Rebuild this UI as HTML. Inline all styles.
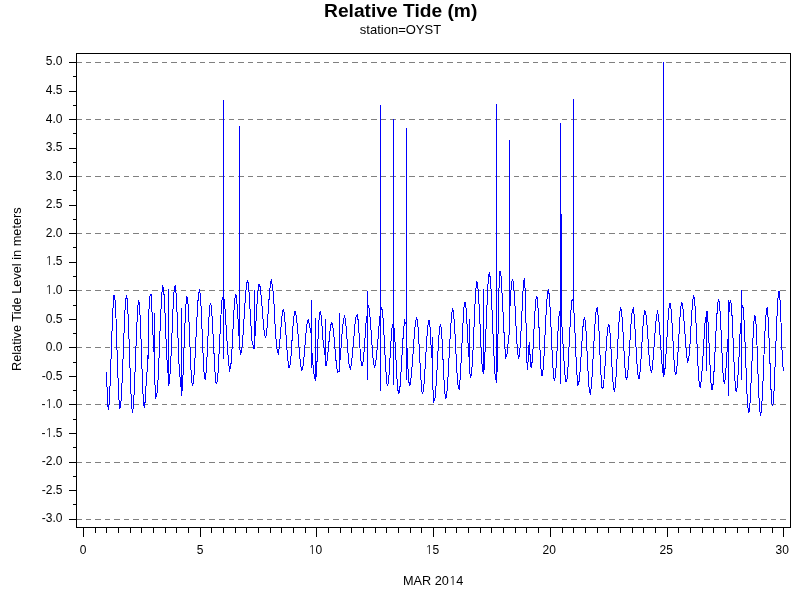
<!DOCTYPE html>
<html><head><meta charset="utf-8"><title>Relative Tide (m)</title>
<style>
html,body{margin:0;padding:0;background:#fff;width:800px;height:600px;overflow:hidden}
svg{display:block}
text{font-family:"Liberation Sans",Arial,sans-serif;fill:#000}
.o{font-family:"NanumGothic","Liberation Sans",sans-serif;font-size:0.96em}
</style></head><body>
<svg width="800" height="600" viewBox="0 0 800 600">
<rect width="800" height="600" fill="#fff"/>
<g shape-rendering="crispEdges">
<rect x="77" y="62" width="5" height="1" fill="#808080"/>
<rect x="86" y="62" width="5" height="1" fill="#808080"/>
<rect x="95" y="62" width="6" height="1" fill="#808080"/>
<rect x="105" y="62" width="5" height="1" fill="#808080"/>
<rect x="114" y="62" width="6" height="1" fill="#808080"/>
<rect x="124" y="62" width="5" height="1" fill="#808080"/>
<rect x="133" y="62" width="6" height="1" fill="#808080"/>
<rect x="143" y="62" width="5" height="1" fill="#808080"/>
<rect x="152" y="62" width="6" height="1" fill="#808080"/>
<rect x="162" y="62" width="5" height="1" fill="#808080"/>
<rect x="171" y="62" width="6" height="1" fill="#808080"/>
<rect x="181" y="62" width="5" height="1" fill="#808080"/>
<rect x="190" y="62" width="6" height="1" fill="#808080"/>
<rect x="200" y="62" width="5" height="1" fill="#808080"/>
<rect x="209" y="62" width="6" height="1" fill="#808080"/>
<rect x="219" y="62" width="6" height="1" fill="#808080"/>
<rect x="229" y="62" width="5" height="1" fill="#808080"/>
<rect x="238" y="62" width="6" height="1" fill="#808080"/>
<rect x="248" y="62" width="5" height="1" fill="#808080"/>
<rect x="257" y="62" width="6" height="1" fill="#808080"/>
<rect x="267" y="62" width="5" height="1" fill="#808080"/>
<rect x="276" y="62" width="6" height="1" fill="#808080"/>
<rect x="286" y="62" width="5" height="1" fill="#808080"/>
<rect x="295" y="62" width="6" height="1" fill="#808080"/>
<rect x="305" y="62" width="5" height="1" fill="#808080"/>
<rect x="314" y="62" width="6" height="1" fill="#808080"/>
<rect x="324" y="62" width="5" height="1" fill="#808080"/>
<rect x="333" y="62" width="6" height="1" fill="#808080"/>
<rect x="343" y="62" width="5" height="1" fill="#808080"/>
<rect x="352" y="62" width="6" height="1" fill="#808080"/>
<rect x="362" y="62" width="5" height="1" fill="#808080"/>
<rect x="371" y="62" width="6" height="1" fill="#808080"/>
<rect x="381" y="62" width="5" height="1" fill="#808080"/>
<rect x="390" y="62" width="6" height="1" fill="#808080"/>
<rect x="400" y="62" width="5" height="1" fill="#808080"/>
<rect x="409" y="62" width="6" height="1" fill="#808080"/>
<rect x="419" y="62" width="5" height="1" fill="#808080"/>
<rect x="428" y="62" width="6" height="1" fill="#808080"/>
<rect x="438" y="62" width="5" height="1" fill="#808080"/>
<rect x="447" y="62" width="6" height="1" fill="#808080"/>
<rect x="457" y="62" width="5" height="1" fill="#808080"/>
<rect x="466" y="62" width="6" height="1" fill="#808080"/>
<rect x="476" y="62" width="5" height="1" fill="#808080"/>
<rect x="485" y="62" width="6" height="1" fill="#808080"/>
<rect x="495" y="62" width="5" height="1" fill="#808080"/>
<rect x="504" y="62" width="6" height="1" fill="#808080"/>
<rect x="514" y="62" width="5" height="1" fill="#808080"/>
<rect x="523" y="62" width="6" height="1" fill="#808080"/>
<rect x="533" y="62" width="5" height="1" fill="#808080"/>
<rect x="542" y="62" width="6" height="1" fill="#808080"/>
<rect x="552" y="62" width="6" height="1" fill="#808080"/>
<rect x="562" y="62" width="5" height="1" fill="#808080"/>
<rect x="571" y="62" width="6" height="1" fill="#808080"/>
<rect x="581" y="62" width="5" height="1" fill="#808080"/>
<rect x="590" y="62" width="6" height="1" fill="#808080"/>
<rect x="600" y="62" width="5" height="1" fill="#808080"/>
<rect x="609" y="62" width="6" height="1" fill="#808080"/>
<rect x="619" y="62" width="5" height="1" fill="#808080"/>
<rect x="628" y="62" width="6" height="1" fill="#808080"/>
<rect x="638" y="62" width="5" height="1" fill="#808080"/>
<rect x="647" y="62" width="6" height="1" fill="#808080"/>
<rect x="657" y="62" width="5" height="1" fill="#808080"/>
<rect x="666" y="62" width="6" height="1" fill="#808080"/>
<rect x="676" y="62" width="5" height="1" fill="#808080"/>
<rect x="685" y="62" width="6" height="1" fill="#808080"/>
<rect x="695" y="62" width="5" height="1" fill="#808080"/>
<rect x="704" y="62" width="6" height="1" fill="#808080"/>
<rect x="714" y="62" width="5" height="1" fill="#808080"/>
<rect x="723" y="62" width="6" height="1" fill="#808080"/>
<rect x="733" y="62" width="5" height="1" fill="#808080"/>
<rect x="742" y="62" width="6" height="1" fill="#808080"/>
<rect x="752" y="62" width="5" height="1" fill="#808080"/>
<rect x="761" y="62" width="6" height="1" fill="#808080"/>
<rect x="771" y="62" width="5" height="1" fill="#808080"/>
<rect x="780" y="62" width="6" height="1" fill="#808080"/>
<rect x="77" y="119" width="5" height="1" fill="#808080"/>
<rect x="86" y="119" width="5" height="1" fill="#808080"/>
<rect x="95" y="119" width="6" height="1" fill="#808080"/>
<rect x="105" y="119" width="5" height="1" fill="#808080"/>
<rect x="114" y="119" width="6" height="1" fill="#808080"/>
<rect x="124" y="119" width="5" height="1" fill="#808080"/>
<rect x="133" y="119" width="6" height="1" fill="#808080"/>
<rect x="143" y="119" width="5" height="1" fill="#808080"/>
<rect x="152" y="119" width="6" height="1" fill="#808080"/>
<rect x="162" y="119" width="5" height="1" fill="#808080"/>
<rect x="171" y="119" width="6" height="1" fill="#808080"/>
<rect x="181" y="119" width="5" height="1" fill="#808080"/>
<rect x="190" y="119" width="6" height="1" fill="#808080"/>
<rect x="200" y="119" width="5" height="1" fill="#808080"/>
<rect x="209" y="119" width="6" height="1" fill="#808080"/>
<rect x="219" y="119" width="6" height="1" fill="#808080"/>
<rect x="229" y="119" width="5" height="1" fill="#808080"/>
<rect x="238" y="119" width="6" height="1" fill="#808080"/>
<rect x="248" y="119" width="5" height="1" fill="#808080"/>
<rect x="257" y="119" width="6" height="1" fill="#808080"/>
<rect x="267" y="119" width="5" height="1" fill="#808080"/>
<rect x="276" y="119" width="6" height="1" fill="#808080"/>
<rect x="286" y="119" width="5" height="1" fill="#808080"/>
<rect x="295" y="119" width="6" height="1" fill="#808080"/>
<rect x="305" y="119" width="5" height="1" fill="#808080"/>
<rect x="314" y="119" width="6" height="1" fill="#808080"/>
<rect x="324" y="119" width="5" height="1" fill="#808080"/>
<rect x="333" y="119" width="6" height="1" fill="#808080"/>
<rect x="343" y="119" width="5" height="1" fill="#808080"/>
<rect x="352" y="119" width="6" height="1" fill="#808080"/>
<rect x="362" y="119" width="5" height="1" fill="#808080"/>
<rect x="371" y="119" width="6" height="1" fill="#808080"/>
<rect x="381" y="119" width="5" height="1" fill="#808080"/>
<rect x="390" y="119" width="6" height="1" fill="#808080"/>
<rect x="400" y="119" width="5" height="1" fill="#808080"/>
<rect x="409" y="119" width="6" height="1" fill="#808080"/>
<rect x="419" y="119" width="5" height="1" fill="#808080"/>
<rect x="428" y="119" width="6" height="1" fill="#808080"/>
<rect x="438" y="119" width="5" height="1" fill="#808080"/>
<rect x="447" y="119" width="6" height="1" fill="#808080"/>
<rect x="457" y="119" width="5" height="1" fill="#808080"/>
<rect x="466" y="119" width="6" height="1" fill="#808080"/>
<rect x="476" y="119" width="5" height="1" fill="#808080"/>
<rect x="485" y="119" width="6" height="1" fill="#808080"/>
<rect x="495" y="119" width="5" height="1" fill="#808080"/>
<rect x="504" y="119" width="6" height="1" fill="#808080"/>
<rect x="514" y="119" width="5" height="1" fill="#808080"/>
<rect x="523" y="119" width="6" height="1" fill="#808080"/>
<rect x="533" y="119" width="5" height="1" fill="#808080"/>
<rect x="542" y="119" width="6" height="1" fill="#808080"/>
<rect x="552" y="119" width="6" height="1" fill="#808080"/>
<rect x="562" y="119" width="5" height="1" fill="#808080"/>
<rect x="571" y="119" width="6" height="1" fill="#808080"/>
<rect x="581" y="119" width="5" height="1" fill="#808080"/>
<rect x="590" y="119" width="6" height="1" fill="#808080"/>
<rect x="600" y="119" width="5" height="1" fill="#808080"/>
<rect x="609" y="119" width="6" height="1" fill="#808080"/>
<rect x="619" y="119" width="5" height="1" fill="#808080"/>
<rect x="628" y="119" width="6" height="1" fill="#808080"/>
<rect x="638" y="119" width="5" height="1" fill="#808080"/>
<rect x="647" y="119" width="6" height="1" fill="#808080"/>
<rect x="657" y="119" width="5" height="1" fill="#808080"/>
<rect x="666" y="119" width="6" height="1" fill="#808080"/>
<rect x="676" y="119" width="5" height="1" fill="#808080"/>
<rect x="685" y="119" width="6" height="1" fill="#808080"/>
<rect x="695" y="119" width="5" height="1" fill="#808080"/>
<rect x="704" y="119" width="6" height="1" fill="#808080"/>
<rect x="714" y="119" width="5" height="1" fill="#808080"/>
<rect x="723" y="119" width="6" height="1" fill="#808080"/>
<rect x="733" y="119" width="5" height="1" fill="#808080"/>
<rect x="742" y="119" width="6" height="1" fill="#808080"/>
<rect x="752" y="119" width="5" height="1" fill="#808080"/>
<rect x="761" y="119" width="6" height="1" fill="#808080"/>
<rect x="771" y="119" width="5" height="1" fill="#808080"/>
<rect x="780" y="119" width="6" height="1" fill="#808080"/>
<rect x="77" y="176" width="5" height="1" fill="#808080"/>
<rect x="86" y="176" width="5" height="1" fill="#808080"/>
<rect x="95" y="176" width="6" height="1" fill="#808080"/>
<rect x="105" y="176" width="5" height="1" fill="#808080"/>
<rect x="114" y="176" width="6" height="1" fill="#808080"/>
<rect x="124" y="176" width="5" height="1" fill="#808080"/>
<rect x="133" y="176" width="6" height="1" fill="#808080"/>
<rect x="143" y="176" width="5" height="1" fill="#808080"/>
<rect x="152" y="176" width="6" height="1" fill="#808080"/>
<rect x="162" y="176" width="5" height="1" fill="#808080"/>
<rect x="171" y="176" width="6" height="1" fill="#808080"/>
<rect x="181" y="176" width="5" height="1" fill="#808080"/>
<rect x="190" y="176" width="6" height="1" fill="#808080"/>
<rect x="200" y="176" width="5" height="1" fill="#808080"/>
<rect x="209" y="176" width="6" height="1" fill="#808080"/>
<rect x="219" y="176" width="6" height="1" fill="#808080"/>
<rect x="229" y="176" width="5" height="1" fill="#808080"/>
<rect x="238" y="176" width="6" height="1" fill="#808080"/>
<rect x="248" y="176" width="5" height="1" fill="#808080"/>
<rect x="257" y="176" width="6" height="1" fill="#808080"/>
<rect x="267" y="176" width="5" height="1" fill="#808080"/>
<rect x="276" y="176" width="6" height="1" fill="#808080"/>
<rect x="286" y="176" width="5" height="1" fill="#808080"/>
<rect x="295" y="176" width="6" height="1" fill="#808080"/>
<rect x="305" y="176" width="5" height="1" fill="#808080"/>
<rect x="314" y="176" width="6" height="1" fill="#808080"/>
<rect x="324" y="176" width="5" height="1" fill="#808080"/>
<rect x="333" y="176" width="6" height="1" fill="#808080"/>
<rect x="343" y="176" width="5" height="1" fill="#808080"/>
<rect x="352" y="176" width="6" height="1" fill="#808080"/>
<rect x="362" y="176" width="5" height="1" fill="#808080"/>
<rect x="371" y="176" width="6" height="1" fill="#808080"/>
<rect x="381" y="176" width="5" height="1" fill="#808080"/>
<rect x="390" y="176" width="6" height="1" fill="#808080"/>
<rect x="400" y="176" width="5" height="1" fill="#808080"/>
<rect x="409" y="176" width="6" height="1" fill="#808080"/>
<rect x="419" y="176" width="5" height="1" fill="#808080"/>
<rect x="428" y="176" width="6" height="1" fill="#808080"/>
<rect x="438" y="176" width="5" height="1" fill="#808080"/>
<rect x="447" y="176" width="6" height="1" fill="#808080"/>
<rect x="457" y="176" width="5" height="1" fill="#808080"/>
<rect x="466" y="176" width="6" height="1" fill="#808080"/>
<rect x="476" y="176" width="5" height="1" fill="#808080"/>
<rect x="485" y="176" width="6" height="1" fill="#808080"/>
<rect x="495" y="176" width="5" height="1" fill="#808080"/>
<rect x="504" y="176" width="6" height="1" fill="#808080"/>
<rect x="514" y="176" width="5" height="1" fill="#808080"/>
<rect x="523" y="176" width="6" height="1" fill="#808080"/>
<rect x="533" y="176" width="5" height="1" fill="#808080"/>
<rect x="542" y="176" width="6" height="1" fill="#808080"/>
<rect x="552" y="176" width="6" height="1" fill="#808080"/>
<rect x="562" y="176" width="5" height="1" fill="#808080"/>
<rect x="571" y="176" width="6" height="1" fill="#808080"/>
<rect x="581" y="176" width="5" height="1" fill="#808080"/>
<rect x="590" y="176" width="6" height="1" fill="#808080"/>
<rect x="600" y="176" width="5" height="1" fill="#808080"/>
<rect x="609" y="176" width="6" height="1" fill="#808080"/>
<rect x="619" y="176" width="5" height="1" fill="#808080"/>
<rect x="628" y="176" width="6" height="1" fill="#808080"/>
<rect x="638" y="176" width="5" height="1" fill="#808080"/>
<rect x="647" y="176" width="6" height="1" fill="#808080"/>
<rect x="657" y="176" width="5" height="1" fill="#808080"/>
<rect x="666" y="176" width="6" height="1" fill="#808080"/>
<rect x="676" y="176" width="5" height="1" fill="#808080"/>
<rect x="685" y="176" width="6" height="1" fill="#808080"/>
<rect x="695" y="176" width="5" height="1" fill="#808080"/>
<rect x="704" y="176" width="6" height="1" fill="#808080"/>
<rect x="714" y="176" width="5" height="1" fill="#808080"/>
<rect x="723" y="176" width="6" height="1" fill="#808080"/>
<rect x="733" y="176" width="5" height="1" fill="#808080"/>
<rect x="742" y="176" width="6" height="1" fill="#808080"/>
<rect x="752" y="176" width="5" height="1" fill="#808080"/>
<rect x="761" y="176" width="6" height="1" fill="#808080"/>
<rect x="771" y="176" width="5" height="1" fill="#808080"/>
<rect x="780" y="176" width="6" height="1" fill="#808080"/>
<rect x="77" y="233" width="5" height="1" fill="#808080"/>
<rect x="86" y="233" width="5" height="1" fill="#808080"/>
<rect x="95" y="233" width="6" height="1" fill="#808080"/>
<rect x="105" y="233" width="5" height="1" fill="#808080"/>
<rect x="114" y="233" width="6" height="1" fill="#808080"/>
<rect x="124" y="233" width="5" height="1" fill="#808080"/>
<rect x="133" y="233" width="6" height="1" fill="#808080"/>
<rect x="143" y="233" width="5" height="1" fill="#808080"/>
<rect x="152" y="233" width="6" height="1" fill="#808080"/>
<rect x="162" y="233" width="5" height="1" fill="#808080"/>
<rect x="171" y="233" width="6" height="1" fill="#808080"/>
<rect x="181" y="233" width="5" height="1" fill="#808080"/>
<rect x="190" y="233" width="6" height="1" fill="#808080"/>
<rect x="200" y="233" width="5" height="1" fill="#808080"/>
<rect x="209" y="233" width="6" height="1" fill="#808080"/>
<rect x="219" y="233" width="6" height="1" fill="#808080"/>
<rect x="229" y="233" width="5" height="1" fill="#808080"/>
<rect x="238" y="233" width="6" height="1" fill="#808080"/>
<rect x="248" y="233" width="5" height="1" fill="#808080"/>
<rect x="257" y="233" width="6" height="1" fill="#808080"/>
<rect x="267" y="233" width="5" height="1" fill="#808080"/>
<rect x="276" y="233" width="6" height="1" fill="#808080"/>
<rect x="286" y="233" width="5" height="1" fill="#808080"/>
<rect x="295" y="233" width="6" height="1" fill="#808080"/>
<rect x="305" y="233" width="5" height="1" fill="#808080"/>
<rect x="314" y="233" width="6" height="1" fill="#808080"/>
<rect x="324" y="233" width="5" height="1" fill="#808080"/>
<rect x="333" y="233" width="6" height="1" fill="#808080"/>
<rect x="343" y="233" width="5" height="1" fill="#808080"/>
<rect x="352" y="233" width="6" height="1" fill="#808080"/>
<rect x="362" y="233" width="5" height="1" fill="#808080"/>
<rect x="371" y="233" width="6" height="1" fill="#808080"/>
<rect x="381" y="233" width="5" height="1" fill="#808080"/>
<rect x="390" y="233" width="6" height="1" fill="#808080"/>
<rect x="400" y="233" width="5" height="1" fill="#808080"/>
<rect x="409" y="233" width="6" height="1" fill="#808080"/>
<rect x="419" y="233" width="5" height="1" fill="#808080"/>
<rect x="428" y="233" width="6" height="1" fill="#808080"/>
<rect x="438" y="233" width="5" height="1" fill="#808080"/>
<rect x="447" y="233" width="6" height="1" fill="#808080"/>
<rect x="457" y="233" width="5" height="1" fill="#808080"/>
<rect x="466" y="233" width="6" height="1" fill="#808080"/>
<rect x="476" y="233" width="5" height="1" fill="#808080"/>
<rect x="485" y="233" width="6" height="1" fill="#808080"/>
<rect x="495" y="233" width="5" height="1" fill="#808080"/>
<rect x="504" y="233" width="6" height="1" fill="#808080"/>
<rect x="514" y="233" width="5" height="1" fill="#808080"/>
<rect x="523" y="233" width="6" height="1" fill="#808080"/>
<rect x="533" y="233" width="5" height="1" fill="#808080"/>
<rect x="542" y="233" width="6" height="1" fill="#808080"/>
<rect x="552" y="233" width="6" height="1" fill="#808080"/>
<rect x="562" y="233" width="5" height="1" fill="#808080"/>
<rect x="571" y="233" width="6" height="1" fill="#808080"/>
<rect x="581" y="233" width="5" height="1" fill="#808080"/>
<rect x="590" y="233" width="6" height="1" fill="#808080"/>
<rect x="600" y="233" width="5" height="1" fill="#808080"/>
<rect x="609" y="233" width="6" height="1" fill="#808080"/>
<rect x="619" y="233" width="5" height="1" fill="#808080"/>
<rect x="628" y="233" width="6" height="1" fill="#808080"/>
<rect x="638" y="233" width="5" height="1" fill="#808080"/>
<rect x="647" y="233" width="6" height="1" fill="#808080"/>
<rect x="657" y="233" width="5" height="1" fill="#808080"/>
<rect x="666" y="233" width="6" height="1" fill="#808080"/>
<rect x="676" y="233" width="5" height="1" fill="#808080"/>
<rect x="685" y="233" width="6" height="1" fill="#808080"/>
<rect x="695" y="233" width="5" height="1" fill="#808080"/>
<rect x="704" y="233" width="6" height="1" fill="#808080"/>
<rect x="714" y="233" width="5" height="1" fill="#808080"/>
<rect x="723" y="233" width="6" height="1" fill="#808080"/>
<rect x="733" y="233" width="5" height="1" fill="#808080"/>
<rect x="742" y="233" width="6" height="1" fill="#808080"/>
<rect x="752" y="233" width="5" height="1" fill="#808080"/>
<rect x="761" y="233" width="6" height="1" fill="#808080"/>
<rect x="771" y="233" width="5" height="1" fill="#808080"/>
<rect x="780" y="233" width="6" height="1" fill="#808080"/>
<rect x="77" y="290" width="5" height="1" fill="#808080"/>
<rect x="86" y="290" width="5" height="1" fill="#808080"/>
<rect x="95" y="290" width="6" height="1" fill="#808080"/>
<rect x="105" y="290" width="5" height="1" fill="#808080"/>
<rect x="114" y="290" width="6" height="1" fill="#808080"/>
<rect x="124" y="290" width="5" height="1" fill="#808080"/>
<rect x="133" y="290" width="6" height="1" fill="#808080"/>
<rect x="143" y="290" width="5" height="1" fill="#808080"/>
<rect x="152" y="290" width="6" height="1" fill="#808080"/>
<rect x="162" y="290" width="5" height="1" fill="#808080"/>
<rect x="171" y="290" width="6" height="1" fill="#808080"/>
<rect x="181" y="290" width="5" height="1" fill="#808080"/>
<rect x="190" y="290" width="6" height="1" fill="#808080"/>
<rect x="200" y="290" width="5" height="1" fill="#808080"/>
<rect x="209" y="290" width="6" height="1" fill="#808080"/>
<rect x="219" y="290" width="6" height="1" fill="#808080"/>
<rect x="229" y="290" width="5" height="1" fill="#808080"/>
<rect x="238" y="290" width="6" height="1" fill="#808080"/>
<rect x="248" y="290" width="5" height="1" fill="#808080"/>
<rect x="257" y="290" width="6" height="1" fill="#808080"/>
<rect x="267" y="290" width="5" height="1" fill="#808080"/>
<rect x="276" y="290" width="6" height="1" fill="#808080"/>
<rect x="286" y="290" width="5" height="1" fill="#808080"/>
<rect x="295" y="290" width="6" height="1" fill="#808080"/>
<rect x="305" y="290" width="5" height="1" fill="#808080"/>
<rect x="314" y="290" width="6" height="1" fill="#808080"/>
<rect x="324" y="290" width="5" height="1" fill="#808080"/>
<rect x="333" y="290" width="6" height="1" fill="#808080"/>
<rect x="343" y="290" width="5" height="1" fill="#808080"/>
<rect x="352" y="290" width="6" height="1" fill="#808080"/>
<rect x="362" y="290" width="5" height="1" fill="#808080"/>
<rect x="371" y="290" width="6" height="1" fill="#808080"/>
<rect x="381" y="290" width="5" height="1" fill="#808080"/>
<rect x="390" y="290" width="6" height="1" fill="#808080"/>
<rect x="400" y="290" width="5" height="1" fill="#808080"/>
<rect x="409" y="290" width="6" height="1" fill="#808080"/>
<rect x="419" y="290" width="5" height="1" fill="#808080"/>
<rect x="428" y="290" width="6" height="1" fill="#808080"/>
<rect x="438" y="290" width="5" height="1" fill="#808080"/>
<rect x="447" y="290" width="6" height="1" fill="#808080"/>
<rect x="457" y="290" width="5" height="1" fill="#808080"/>
<rect x="466" y="290" width="6" height="1" fill="#808080"/>
<rect x="476" y="290" width="5" height="1" fill="#808080"/>
<rect x="485" y="290" width="6" height="1" fill="#808080"/>
<rect x="495" y="290" width="5" height="1" fill="#808080"/>
<rect x="504" y="290" width="6" height="1" fill="#808080"/>
<rect x="514" y="290" width="5" height="1" fill="#808080"/>
<rect x="523" y="290" width="6" height="1" fill="#808080"/>
<rect x="533" y="290" width="5" height="1" fill="#808080"/>
<rect x="542" y="290" width="6" height="1" fill="#808080"/>
<rect x="552" y="290" width="6" height="1" fill="#808080"/>
<rect x="562" y="290" width="5" height="1" fill="#808080"/>
<rect x="571" y="290" width="6" height="1" fill="#808080"/>
<rect x="581" y="290" width="5" height="1" fill="#808080"/>
<rect x="590" y="290" width="6" height="1" fill="#808080"/>
<rect x="600" y="290" width="5" height="1" fill="#808080"/>
<rect x="609" y="290" width="6" height="1" fill="#808080"/>
<rect x="619" y="290" width="5" height="1" fill="#808080"/>
<rect x="628" y="290" width="6" height="1" fill="#808080"/>
<rect x="638" y="290" width="5" height="1" fill="#808080"/>
<rect x="647" y="290" width="6" height="1" fill="#808080"/>
<rect x="657" y="290" width="5" height="1" fill="#808080"/>
<rect x="666" y="290" width="6" height="1" fill="#808080"/>
<rect x="676" y="290" width="5" height="1" fill="#808080"/>
<rect x="685" y="290" width="6" height="1" fill="#808080"/>
<rect x="695" y="290" width="5" height="1" fill="#808080"/>
<rect x="704" y="290" width="6" height="1" fill="#808080"/>
<rect x="714" y="290" width="5" height="1" fill="#808080"/>
<rect x="723" y="290" width="6" height="1" fill="#808080"/>
<rect x="733" y="290" width="5" height="1" fill="#808080"/>
<rect x="742" y="290" width="6" height="1" fill="#808080"/>
<rect x="752" y="290" width="5" height="1" fill="#808080"/>
<rect x="761" y="290" width="6" height="1" fill="#808080"/>
<rect x="771" y="290" width="5" height="1" fill="#808080"/>
<rect x="780" y="290" width="6" height="1" fill="#808080"/>
<rect x="77" y="347" width="5" height="1" fill="#808080"/>
<rect x="86" y="347" width="5" height="1" fill="#808080"/>
<rect x="95" y="347" width="6" height="1" fill="#808080"/>
<rect x="105" y="347" width="5" height="1" fill="#808080"/>
<rect x="114" y="347" width="6" height="1" fill="#808080"/>
<rect x="124" y="347" width="5" height="1" fill="#808080"/>
<rect x="133" y="347" width="6" height="1" fill="#808080"/>
<rect x="143" y="347" width="5" height="1" fill="#808080"/>
<rect x="152" y="347" width="6" height="1" fill="#808080"/>
<rect x="162" y="347" width="5" height="1" fill="#808080"/>
<rect x="171" y="347" width="6" height="1" fill="#808080"/>
<rect x="181" y="347" width="5" height="1" fill="#808080"/>
<rect x="190" y="347" width="6" height="1" fill="#808080"/>
<rect x="200" y="347" width="5" height="1" fill="#808080"/>
<rect x="209" y="347" width="6" height="1" fill="#808080"/>
<rect x="219" y="347" width="6" height="1" fill="#808080"/>
<rect x="229" y="347" width="5" height="1" fill="#808080"/>
<rect x="238" y="347" width="6" height="1" fill="#808080"/>
<rect x="248" y="347" width="5" height="1" fill="#808080"/>
<rect x="257" y="347" width="6" height="1" fill="#808080"/>
<rect x="267" y="347" width="5" height="1" fill="#808080"/>
<rect x="276" y="347" width="6" height="1" fill="#808080"/>
<rect x="286" y="347" width="5" height="1" fill="#808080"/>
<rect x="295" y="347" width="6" height="1" fill="#808080"/>
<rect x="305" y="347" width="5" height="1" fill="#808080"/>
<rect x="314" y="347" width="6" height="1" fill="#808080"/>
<rect x="324" y="347" width="5" height="1" fill="#808080"/>
<rect x="333" y="347" width="6" height="1" fill="#808080"/>
<rect x="343" y="347" width="5" height="1" fill="#808080"/>
<rect x="352" y="347" width="6" height="1" fill="#808080"/>
<rect x="362" y="347" width="5" height="1" fill="#808080"/>
<rect x="371" y="347" width="6" height="1" fill="#808080"/>
<rect x="381" y="347" width="5" height="1" fill="#808080"/>
<rect x="390" y="347" width="6" height="1" fill="#808080"/>
<rect x="400" y="347" width="5" height="1" fill="#808080"/>
<rect x="409" y="347" width="6" height="1" fill="#808080"/>
<rect x="419" y="347" width="5" height="1" fill="#808080"/>
<rect x="428" y="347" width="6" height="1" fill="#808080"/>
<rect x="438" y="347" width="5" height="1" fill="#808080"/>
<rect x="447" y="347" width="6" height="1" fill="#808080"/>
<rect x="457" y="347" width="5" height="1" fill="#808080"/>
<rect x="466" y="347" width="6" height="1" fill="#808080"/>
<rect x="476" y="347" width="5" height="1" fill="#808080"/>
<rect x="485" y="347" width="6" height="1" fill="#808080"/>
<rect x="495" y="347" width="5" height="1" fill="#808080"/>
<rect x="504" y="347" width="6" height="1" fill="#808080"/>
<rect x="514" y="347" width="5" height="1" fill="#808080"/>
<rect x="523" y="347" width="6" height="1" fill="#808080"/>
<rect x="533" y="347" width="5" height="1" fill="#808080"/>
<rect x="542" y="347" width="6" height="1" fill="#808080"/>
<rect x="552" y="347" width="6" height="1" fill="#808080"/>
<rect x="562" y="347" width="5" height="1" fill="#808080"/>
<rect x="571" y="347" width="6" height="1" fill="#808080"/>
<rect x="581" y="347" width="5" height="1" fill="#808080"/>
<rect x="590" y="347" width="6" height="1" fill="#808080"/>
<rect x="600" y="347" width="5" height="1" fill="#808080"/>
<rect x="609" y="347" width="6" height="1" fill="#808080"/>
<rect x="619" y="347" width="5" height="1" fill="#808080"/>
<rect x="628" y="347" width="6" height="1" fill="#808080"/>
<rect x="638" y="347" width="5" height="1" fill="#808080"/>
<rect x="647" y="347" width="6" height="1" fill="#808080"/>
<rect x="657" y="347" width="5" height="1" fill="#808080"/>
<rect x="666" y="347" width="6" height="1" fill="#808080"/>
<rect x="676" y="347" width="5" height="1" fill="#808080"/>
<rect x="685" y="347" width="6" height="1" fill="#808080"/>
<rect x="695" y="347" width="5" height="1" fill="#808080"/>
<rect x="704" y="347" width="6" height="1" fill="#808080"/>
<rect x="714" y="347" width="5" height="1" fill="#808080"/>
<rect x="723" y="347" width="6" height="1" fill="#808080"/>
<rect x="733" y="347" width="5" height="1" fill="#808080"/>
<rect x="742" y="347" width="6" height="1" fill="#808080"/>
<rect x="752" y="347" width="5" height="1" fill="#808080"/>
<rect x="761" y="347" width="6" height="1" fill="#808080"/>
<rect x="771" y="347" width="5" height="1" fill="#808080"/>
<rect x="780" y="347" width="6" height="1" fill="#808080"/>
<rect x="77" y="404" width="5" height="1" fill="#808080"/>
<rect x="86" y="404" width="5" height="1" fill="#808080"/>
<rect x="95" y="404" width="6" height="1" fill="#808080"/>
<rect x="105" y="404" width="5" height="1" fill="#808080"/>
<rect x="114" y="404" width="6" height="1" fill="#808080"/>
<rect x="124" y="404" width="5" height="1" fill="#808080"/>
<rect x="133" y="404" width="6" height="1" fill="#808080"/>
<rect x="143" y="404" width="5" height="1" fill="#808080"/>
<rect x="152" y="404" width="6" height="1" fill="#808080"/>
<rect x="162" y="404" width="5" height="1" fill="#808080"/>
<rect x="171" y="404" width="6" height="1" fill="#808080"/>
<rect x="181" y="404" width="5" height="1" fill="#808080"/>
<rect x="190" y="404" width="6" height="1" fill="#808080"/>
<rect x="200" y="404" width="5" height="1" fill="#808080"/>
<rect x="209" y="404" width="6" height="1" fill="#808080"/>
<rect x="219" y="404" width="6" height="1" fill="#808080"/>
<rect x="229" y="404" width="5" height="1" fill="#808080"/>
<rect x="238" y="404" width="6" height="1" fill="#808080"/>
<rect x="248" y="404" width="5" height="1" fill="#808080"/>
<rect x="257" y="404" width="6" height="1" fill="#808080"/>
<rect x="267" y="404" width="5" height="1" fill="#808080"/>
<rect x="276" y="404" width="6" height="1" fill="#808080"/>
<rect x="286" y="404" width="5" height="1" fill="#808080"/>
<rect x="295" y="404" width="6" height="1" fill="#808080"/>
<rect x="305" y="404" width="5" height="1" fill="#808080"/>
<rect x="314" y="404" width="6" height="1" fill="#808080"/>
<rect x="324" y="404" width="5" height="1" fill="#808080"/>
<rect x="333" y="404" width="6" height="1" fill="#808080"/>
<rect x="343" y="404" width="5" height="1" fill="#808080"/>
<rect x="352" y="404" width="6" height="1" fill="#808080"/>
<rect x="362" y="404" width="5" height="1" fill="#808080"/>
<rect x="371" y="404" width="6" height="1" fill="#808080"/>
<rect x="381" y="404" width="5" height="1" fill="#808080"/>
<rect x="390" y="404" width="6" height="1" fill="#808080"/>
<rect x="400" y="404" width="5" height="1" fill="#808080"/>
<rect x="409" y="404" width="6" height="1" fill="#808080"/>
<rect x="419" y="404" width="5" height="1" fill="#808080"/>
<rect x="428" y="404" width="6" height="1" fill="#808080"/>
<rect x="438" y="404" width="5" height="1" fill="#808080"/>
<rect x="447" y="404" width="6" height="1" fill="#808080"/>
<rect x="457" y="404" width="5" height="1" fill="#808080"/>
<rect x="466" y="404" width="6" height="1" fill="#808080"/>
<rect x="476" y="404" width="5" height="1" fill="#808080"/>
<rect x="485" y="404" width="6" height="1" fill="#808080"/>
<rect x="495" y="404" width="5" height="1" fill="#808080"/>
<rect x="504" y="404" width="6" height="1" fill="#808080"/>
<rect x="514" y="404" width="5" height="1" fill="#808080"/>
<rect x="523" y="404" width="6" height="1" fill="#808080"/>
<rect x="533" y="404" width="5" height="1" fill="#808080"/>
<rect x="542" y="404" width="6" height="1" fill="#808080"/>
<rect x="552" y="404" width="6" height="1" fill="#808080"/>
<rect x="562" y="404" width="5" height="1" fill="#808080"/>
<rect x="571" y="404" width="6" height="1" fill="#808080"/>
<rect x="581" y="404" width="5" height="1" fill="#808080"/>
<rect x="590" y="404" width="6" height="1" fill="#808080"/>
<rect x="600" y="404" width="5" height="1" fill="#808080"/>
<rect x="609" y="404" width="6" height="1" fill="#808080"/>
<rect x="619" y="404" width="5" height="1" fill="#808080"/>
<rect x="628" y="404" width="6" height="1" fill="#808080"/>
<rect x="638" y="404" width="5" height="1" fill="#808080"/>
<rect x="647" y="404" width="6" height="1" fill="#808080"/>
<rect x="657" y="404" width="5" height="1" fill="#808080"/>
<rect x="666" y="404" width="6" height="1" fill="#808080"/>
<rect x="676" y="404" width="5" height="1" fill="#808080"/>
<rect x="685" y="404" width="6" height="1" fill="#808080"/>
<rect x="695" y="404" width="5" height="1" fill="#808080"/>
<rect x="704" y="404" width="6" height="1" fill="#808080"/>
<rect x="714" y="404" width="5" height="1" fill="#808080"/>
<rect x="723" y="404" width="6" height="1" fill="#808080"/>
<rect x="733" y="404" width="5" height="1" fill="#808080"/>
<rect x="742" y="404" width="6" height="1" fill="#808080"/>
<rect x="752" y="404" width="5" height="1" fill="#808080"/>
<rect x="761" y="404" width="6" height="1" fill="#808080"/>
<rect x="771" y="404" width="5" height="1" fill="#808080"/>
<rect x="780" y="404" width="6" height="1" fill="#808080"/>
<rect x="77" y="462" width="5" height="1" fill="#808080"/>
<rect x="86" y="462" width="5" height="1" fill="#808080"/>
<rect x="95" y="462" width="6" height="1" fill="#808080"/>
<rect x="105" y="462" width="5" height="1" fill="#808080"/>
<rect x="114" y="462" width="6" height="1" fill="#808080"/>
<rect x="124" y="462" width="5" height="1" fill="#808080"/>
<rect x="133" y="462" width="6" height="1" fill="#808080"/>
<rect x="143" y="462" width="5" height="1" fill="#808080"/>
<rect x="152" y="462" width="6" height="1" fill="#808080"/>
<rect x="162" y="462" width="5" height="1" fill="#808080"/>
<rect x="171" y="462" width="6" height="1" fill="#808080"/>
<rect x="181" y="462" width="5" height="1" fill="#808080"/>
<rect x="190" y="462" width="6" height="1" fill="#808080"/>
<rect x="200" y="462" width="5" height="1" fill="#808080"/>
<rect x="209" y="462" width="6" height="1" fill="#808080"/>
<rect x="219" y="462" width="6" height="1" fill="#808080"/>
<rect x="229" y="462" width="5" height="1" fill="#808080"/>
<rect x="238" y="462" width="6" height="1" fill="#808080"/>
<rect x="248" y="462" width="5" height="1" fill="#808080"/>
<rect x="257" y="462" width="6" height="1" fill="#808080"/>
<rect x="267" y="462" width="5" height="1" fill="#808080"/>
<rect x="276" y="462" width="6" height="1" fill="#808080"/>
<rect x="286" y="462" width="5" height="1" fill="#808080"/>
<rect x="295" y="462" width="6" height="1" fill="#808080"/>
<rect x="305" y="462" width="5" height="1" fill="#808080"/>
<rect x="314" y="462" width="6" height="1" fill="#808080"/>
<rect x="324" y="462" width="5" height="1" fill="#808080"/>
<rect x="333" y="462" width="6" height="1" fill="#808080"/>
<rect x="343" y="462" width="5" height="1" fill="#808080"/>
<rect x="352" y="462" width="6" height="1" fill="#808080"/>
<rect x="362" y="462" width="5" height="1" fill="#808080"/>
<rect x="371" y="462" width="6" height="1" fill="#808080"/>
<rect x="381" y="462" width="5" height="1" fill="#808080"/>
<rect x="390" y="462" width="6" height="1" fill="#808080"/>
<rect x="400" y="462" width="5" height="1" fill="#808080"/>
<rect x="409" y="462" width="6" height="1" fill="#808080"/>
<rect x="419" y="462" width="5" height="1" fill="#808080"/>
<rect x="428" y="462" width="6" height="1" fill="#808080"/>
<rect x="438" y="462" width="5" height="1" fill="#808080"/>
<rect x="447" y="462" width="6" height="1" fill="#808080"/>
<rect x="457" y="462" width="5" height="1" fill="#808080"/>
<rect x="466" y="462" width="6" height="1" fill="#808080"/>
<rect x="476" y="462" width="5" height="1" fill="#808080"/>
<rect x="485" y="462" width="6" height="1" fill="#808080"/>
<rect x="495" y="462" width="5" height="1" fill="#808080"/>
<rect x="504" y="462" width="6" height="1" fill="#808080"/>
<rect x="514" y="462" width="5" height="1" fill="#808080"/>
<rect x="523" y="462" width="6" height="1" fill="#808080"/>
<rect x="533" y="462" width="5" height="1" fill="#808080"/>
<rect x="542" y="462" width="6" height="1" fill="#808080"/>
<rect x="552" y="462" width="6" height="1" fill="#808080"/>
<rect x="562" y="462" width="5" height="1" fill="#808080"/>
<rect x="571" y="462" width="6" height="1" fill="#808080"/>
<rect x="581" y="462" width="5" height="1" fill="#808080"/>
<rect x="590" y="462" width="6" height="1" fill="#808080"/>
<rect x="600" y="462" width="5" height="1" fill="#808080"/>
<rect x="609" y="462" width="6" height="1" fill="#808080"/>
<rect x="619" y="462" width="5" height="1" fill="#808080"/>
<rect x="628" y="462" width="6" height="1" fill="#808080"/>
<rect x="638" y="462" width="5" height="1" fill="#808080"/>
<rect x="647" y="462" width="6" height="1" fill="#808080"/>
<rect x="657" y="462" width="5" height="1" fill="#808080"/>
<rect x="666" y="462" width="6" height="1" fill="#808080"/>
<rect x="676" y="462" width="5" height="1" fill="#808080"/>
<rect x="685" y="462" width="6" height="1" fill="#808080"/>
<rect x="695" y="462" width="5" height="1" fill="#808080"/>
<rect x="704" y="462" width="6" height="1" fill="#808080"/>
<rect x="714" y="462" width="5" height="1" fill="#808080"/>
<rect x="723" y="462" width="6" height="1" fill="#808080"/>
<rect x="733" y="462" width="5" height="1" fill="#808080"/>
<rect x="742" y="462" width="6" height="1" fill="#808080"/>
<rect x="752" y="462" width="5" height="1" fill="#808080"/>
<rect x="761" y="462" width="6" height="1" fill="#808080"/>
<rect x="771" y="462" width="5" height="1" fill="#808080"/>
<rect x="780" y="462" width="6" height="1" fill="#808080"/>
<rect x="77" y="519" width="5" height="1" fill="#808080"/>
<rect x="86" y="519" width="5" height="1" fill="#808080"/>
<rect x="95" y="519" width="6" height="1" fill="#808080"/>
<rect x="105" y="519" width="5" height="1" fill="#808080"/>
<rect x="114" y="519" width="6" height="1" fill="#808080"/>
<rect x="124" y="519" width="5" height="1" fill="#808080"/>
<rect x="133" y="519" width="6" height="1" fill="#808080"/>
<rect x="143" y="519" width="5" height="1" fill="#808080"/>
<rect x="152" y="519" width="6" height="1" fill="#808080"/>
<rect x="162" y="519" width="5" height="1" fill="#808080"/>
<rect x="171" y="519" width="6" height="1" fill="#808080"/>
<rect x="181" y="519" width="5" height="1" fill="#808080"/>
<rect x="190" y="519" width="6" height="1" fill="#808080"/>
<rect x="200" y="519" width="5" height="1" fill="#808080"/>
<rect x="209" y="519" width="6" height="1" fill="#808080"/>
<rect x="219" y="519" width="6" height="1" fill="#808080"/>
<rect x="229" y="519" width="5" height="1" fill="#808080"/>
<rect x="238" y="519" width="6" height="1" fill="#808080"/>
<rect x="248" y="519" width="5" height="1" fill="#808080"/>
<rect x="257" y="519" width="6" height="1" fill="#808080"/>
<rect x="267" y="519" width="5" height="1" fill="#808080"/>
<rect x="276" y="519" width="6" height="1" fill="#808080"/>
<rect x="286" y="519" width="5" height="1" fill="#808080"/>
<rect x="295" y="519" width="6" height="1" fill="#808080"/>
<rect x="305" y="519" width="5" height="1" fill="#808080"/>
<rect x="314" y="519" width="6" height="1" fill="#808080"/>
<rect x="324" y="519" width="5" height="1" fill="#808080"/>
<rect x="333" y="519" width="6" height="1" fill="#808080"/>
<rect x="343" y="519" width="5" height="1" fill="#808080"/>
<rect x="352" y="519" width="6" height="1" fill="#808080"/>
<rect x="362" y="519" width="5" height="1" fill="#808080"/>
<rect x="371" y="519" width="6" height="1" fill="#808080"/>
<rect x="381" y="519" width="5" height="1" fill="#808080"/>
<rect x="390" y="519" width="6" height="1" fill="#808080"/>
<rect x="400" y="519" width="5" height="1" fill="#808080"/>
<rect x="409" y="519" width="6" height="1" fill="#808080"/>
<rect x="419" y="519" width="5" height="1" fill="#808080"/>
<rect x="428" y="519" width="6" height="1" fill="#808080"/>
<rect x="438" y="519" width="5" height="1" fill="#808080"/>
<rect x="447" y="519" width="6" height="1" fill="#808080"/>
<rect x="457" y="519" width="5" height="1" fill="#808080"/>
<rect x="466" y="519" width="6" height="1" fill="#808080"/>
<rect x="476" y="519" width="5" height="1" fill="#808080"/>
<rect x="485" y="519" width="6" height="1" fill="#808080"/>
<rect x="495" y="519" width="5" height="1" fill="#808080"/>
<rect x="504" y="519" width="6" height="1" fill="#808080"/>
<rect x="514" y="519" width="5" height="1" fill="#808080"/>
<rect x="523" y="519" width="6" height="1" fill="#808080"/>
<rect x="533" y="519" width="5" height="1" fill="#808080"/>
<rect x="542" y="519" width="6" height="1" fill="#808080"/>
<rect x="552" y="519" width="6" height="1" fill="#808080"/>
<rect x="562" y="519" width="5" height="1" fill="#808080"/>
<rect x="571" y="519" width="6" height="1" fill="#808080"/>
<rect x="581" y="519" width="5" height="1" fill="#808080"/>
<rect x="590" y="519" width="6" height="1" fill="#808080"/>
<rect x="600" y="519" width="5" height="1" fill="#808080"/>
<rect x="609" y="519" width="6" height="1" fill="#808080"/>
<rect x="619" y="519" width="5" height="1" fill="#808080"/>
<rect x="628" y="519" width="6" height="1" fill="#808080"/>
<rect x="638" y="519" width="5" height="1" fill="#808080"/>
<rect x="647" y="519" width="6" height="1" fill="#808080"/>
<rect x="657" y="519" width="5" height="1" fill="#808080"/>
<rect x="666" y="519" width="6" height="1" fill="#808080"/>
<rect x="676" y="519" width="5" height="1" fill="#808080"/>
<rect x="685" y="519" width="6" height="1" fill="#808080"/>
<rect x="695" y="519" width="5" height="1" fill="#808080"/>
<rect x="704" y="519" width="6" height="1" fill="#808080"/>
<rect x="714" y="519" width="5" height="1" fill="#808080"/>
<rect x="723" y="519" width="6" height="1" fill="#808080"/>
<rect x="733" y="519" width="5" height="1" fill="#808080"/>
<rect x="742" y="519" width="6" height="1" fill="#808080"/>
<rect x="752" y="519" width="5" height="1" fill="#808080"/>
<rect x="761" y="519" width="6" height="1" fill="#808080"/>
<rect x="771" y="519" width="5" height="1" fill="#808080"/>
<rect x="780" y="519" width="6" height="1" fill="#808080"/>
<rect x="76" y="53" width="715" height="1" fill="#000"/>
<rect x="76" y="527" width="715" height="1" fill="#000"/>
<rect x="76" y="53" width="1" height="475" fill="#000"/>
<rect x="790" y="53" width="1" height="475" fill="#000"/>
<rect x="69" y="62" width="7" height="1" fill="#000"/>
<rect x="73" y="76" width="3" height="1" fill="#000"/>
<rect x="69" y="91" width="7" height="1" fill="#000"/>
<rect x="73" y="105" width="3" height="1" fill="#000"/>
<rect x="69" y="119" width="7" height="1" fill="#000"/>
<rect x="73" y="133" width="3" height="1" fill="#000"/>
<rect x="69" y="148" width="7" height="1" fill="#000"/>
<rect x="73" y="162" width="3" height="1" fill="#000"/>
<rect x="69" y="176" width="7" height="1" fill="#000"/>
<rect x="73" y="190" width="3" height="1" fill="#000"/>
<rect x="69" y="205" width="7" height="1" fill="#000"/>
<rect x="73" y="219" width="3" height="1" fill="#000"/>
<rect x="69" y="233" width="7" height="1" fill="#000"/>
<rect x="73" y="247" width="3" height="1" fill="#000"/>
<rect x="69" y="262" width="7" height="1" fill="#000"/>
<rect x="73" y="276" width="3" height="1" fill="#000"/>
<rect x="69" y="290" width="7" height="1" fill="#000"/>
<rect x="73" y="305" width="3" height="1" fill="#000"/>
<rect x="69" y="319" width="7" height="1" fill="#000"/>
<rect x="73" y="333" width="3" height="1" fill="#000"/>
<rect x="69" y="347" width="7" height="1" fill="#000"/>
<rect x="73" y="362" width="3" height="1" fill="#000"/>
<rect x="69" y="376" width="7" height="1" fill="#000"/>
<rect x="73" y="390" width="3" height="1" fill="#000"/>
<rect x="69" y="404" width="7" height="1" fill="#000"/>
<rect x="73" y="419" width="3" height="1" fill="#000"/>
<rect x="69" y="433" width="7" height="1" fill="#000"/>
<rect x="73" y="447" width="3" height="1" fill="#000"/>
<rect x="69" y="462" width="7" height="1" fill="#000"/>
<rect x="73" y="476" width="3" height="1" fill="#000"/>
<rect x="69" y="490" width="7" height="1" fill="#000"/>
<rect x="73" y="504" width="3" height="1" fill="#000"/>
<rect x="69" y="519" width="7" height="1" fill="#000"/>
<rect x="83" y="528" width="1" height="9" fill="#000"/>
<rect x="95" y="528" width="1" height="5" fill="#000"/>
<rect x="106" y="528" width="1" height="5" fill="#000"/>
<rect x="118" y="528" width="1" height="5" fill="#000"/>
<rect x="130" y="528" width="1" height="5" fill="#000"/>
<rect x="141" y="528" width="1" height="5" fill="#000"/>
<rect x="153" y="528" width="1" height="5" fill="#000"/>
<rect x="165" y="528" width="1" height="5" fill="#000"/>
<rect x="176" y="528" width="1" height="5" fill="#000"/>
<rect x="188" y="528" width="1" height="5" fill="#000"/>
<rect x="200" y="528" width="1" height="9" fill="#000"/>
<rect x="211" y="528" width="1" height="5" fill="#000"/>
<rect x="223" y="528" width="1" height="5" fill="#000"/>
<rect x="235" y="528" width="1" height="5" fill="#000"/>
<rect x="246" y="528" width="1" height="5" fill="#000"/>
<rect x="258" y="528" width="1" height="5" fill="#000"/>
<rect x="270" y="528" width="1" height="5" fill="#000"/>
<rect x="281" y="528" width="1" height="5" fill="#000"/>
<rect x="293" y="528" width="1" height="5" fill="#000"/>
<rect x="305" y="528" width="1" height="5" fill="#000"/>
<rect x="316" y="528" width="1" height="9" fill="#000"/>
<rect x="328" y="528" width="1" height="5" fill="#000"/>
<rect x="340" y="528" width="1" height="5" fill="#000"/>
<rect x="351" y="528" width="1" height="5" fill="#000"/>
<rect x="363" y="528" width="1" height="5" fill="#000"/>
<rect x="375" y="528" width="1" height="5" fill="#000"/>
<rect x="386" y="528" width="1" height="5" fill="#000"/>
<rect x="398" y="528" width="1" height="5" fill="#000"/>
<rect x="410" y="528" width="1" height="5" fill="#000"/>
<rect x="421" y="528" width="1" height="5" fill="#000"/>
<rect x="433" y="528" width="1" height="9" fill="#000"/>
<rect x="445" y="528" width="1" height="5" fill="#000"/>
<rect x="456" y="528" width="1" height="5" fill="#000"/>
<rect x="468" y="528" width="1" height="5" fill="#000"/>
<rect x="480" y="528" width="1" height="5" fill="#000"/>
<rect x="491" y="528" width="1" height="5" fill="#000"/>
<rect x="503" y="528" width="1" height="5" fill="#000"/>
<rect x="515" y="528" width="1" height="5" fill="#000"/>
<rect x="526" y="528" width="1" height="5" fill="#000"/>
<rect x="538" y="528" width="1" height="5" fill="#000"/>
<rect x="550" y="528" width="1" height="9" fill="#000"/>
<rect x="562" y="528" width="1" height="5" fill="#000"/>
<rect x="573" y="528" width="1" height="5" fill="#000"/>
<rect x="585" y="528" width="1" height="5" fill="#000"/>
<rect x="597" y="528" width="1" height="5" fill="#000"/>
<rect x="608" y="528" width="1" height="5" fill="#000"/>
<rect x="620" y="528" width="1" height="5" fill="#000"/>
<rect x="632" y="528" width="1" height="5" fill="#000"/>
<rect x="643" y="528" width="1" height="5" fill="#000"/>
<rect x="655" y="528" width="1" height="5" fill="#000"/>
<rect x="667" y="528" width="1" height="9" fill="#000"/>
<rect x="678" y="528" width="1" height="5" fill="#000"/>
<rect x="690" y="528" width="1" height="5" fill="#000"/>
<rect x="702" y="528" width="1" height="5" fill="#000"/>
<rect x="713" y="528" width="1" height="5" fill="#000"/>
<rect x="725" y="528" width="1" height="5" fill="#000"/>
<rect x="737" y="528" width="1" height="5" fill="#000"/>
<rect x="748" y="528" width="1" height="5" fill="#000"/>
<rect x="760" y="528" width="1" height="5" fill="#000"/>
<rect x="772" y="528" width="1" height="5" fill="#000"/>
<rect x="783" y="528" width="1" height="9" fill="#000"/>
</g>
<polyline points="106.2,372.5 107.2,390.7 108.2,410.0 109.2,403.5 110.1,384.1 111.1,356.7 112.1,328.2 113.1,305.9 114.0,295.0 115.0,299.7 116.0,318.4 116.9,346.3 117.9,375.7 118.9,398.6 119.9,408.8 120.8,404.2 121.8,388.4 122.8,364.7 123.8,338.3 124.7,314.7 125.7,299.3 126.7,295.0 127.6,305.1 128.6,327.4 129.6,356.3 130.6,384.6 131.5,405.1 132.5,412.5 133.5,405.9 134.4,387.8 135.4,362.4 136.4,335.5 137.4,313.6 138.3,300.5 139.3,303.2 140.3,319.6 141.3,346.4 142.2,375.4 143.2,398.1 144.2,407.5 145.1,401.9 146.1,384.5 148.0,359.1 148.0,309.0 148.0,359.1 148.1,331.9 149.0,309.1 150.0,296.0 151.0,294.2 151.9,309.5 152.9,333.1 154.5,360.2 154.5,313.0 154.5,360.2 154.9,383.3 155.8,397.5 156.8,395.6 157.8,383.9 158.8,363.7 159.7,339.0 160.7,314.8 161.7,295.9 162.6,285.5 163.6,288.3 164.6,303.1 165.6,326.8 166.5,353.0 168.1,374.3 168.1,289.0 168.1,374.3 168.5,385.5 169.4,382.5 170.4,369.0 171.4,347.6 172.4,323.4 173.3,302.0 174.3,288.5 175.3,285.5 176.3,296.1 177.2,316.5 178.2,342.7 179.2,368.4 181.1,387.6 181.1,308.0 181.1,387.6 181.1,396.0 182.1,390.9 183.1,373.6 184.0,348.7 185.0,323.0 186.0,303.7 186.9,296.0 187.9,302.0 188.9,319.7 189.9,343.9 190.8,367.1 191.8,382.5 192.8,386.0 193.8,378.6 194.7,363.9 195.7,344.3 196.7,323.5 197.6,305.4 198.6,293.3 199.6,289.5 200.6,297.5 201.5,316.6 202.5,341.2 203.5,363.8 204.4,377.7 205.4,380.0 206.4,368.5 207.4,350.0 208.3,328.9 209.3,311.6 210.3,303.0 211.3,306.1 212.2,318.3 213.2,336.9 214.2,357.2 215.1,373.9 216.1,383.8 217.1,382.0 218.1,371.8 219.0,354.6 220.0,334.0 221.0,314.7 221.9,300.7 223.5,295.0 223.5,100.0 223.5,359.0 223.5,295.0 223.9,297.9 224.9,307.3 225.8,321.4 226.8,337.6 227.8,352.8 228.8,364.3 229.7,370.0 230.7,367.3 231.7,355.3 232.6,336.8 233.6,317.0 234.6,301.2 235.6,293.8 236.5,297.3 237.5,310.1 238.5,327.9 239.5,344.2 239.5,126.0 239.5,344.2 240.4,353.8 241.4,352.1 242.4,343.9 243.3,330.3 244.3,314.1 245.3,298.4 246.3,286.5 247.2,280.5 248.2,282.9 249.2,293.7 250.1,310.2 251.1,328.0 252.1,342.0 254.0,348.8 254.0,290.0 254.0,348.8 254.0,346.1 255.0,336.2 256.0,321.3 256.9,305.2 257.9,292.0 258.9,284.5 259.9,285.7 260.8,292.5 261.8,303.5 262.8,316.3 263.8,327.9 264.7,335.5 265.7,337.5 266.7,331.9 267.6,320.2 268.6,305.3 269.6,291.5 270.6,282.5 271.5,280.5 272.5,286.5 273.8,298.4 273.8,298.0 273.8,298.4 274.4,314.1 275.4,330.3 276.4,343.9 277.4,352.1 278.3,353.8 279.3,347.3 280.3,336.2 281.3,323.5 282.2,313.6 283.2,309.5 284.2,312.8 285.1,322.6 286.1,336.4 287.1,350.8 288.1,362.0 289.0,367.5 290.0,365.2 291.0,355.9 291.9,342.1 292.9,327.6 293.9,316.3 294.9,311.2 295.8,313.3 296.8,320.4 297.8,331.3 298.8,343.9 299.7,355.9 300.7,365.1 301.7,370.0 302.6,368.6 303.6,361.6 304.6,350.4 305.6,337.8 306.5,327.1 307.5,320.9 308.5,320.0 309.4,325.3 311.2,334.1 311.2,299.5 311.2,367.5 311.2,334.1 311.4,345.5 312.4,357.6 313.3,368.5 314.3,376.3 315.5,380.0 315.5,317.5 315.5,381.0 315.5,380.0 316.3,375.4 317.2,357.9 318.2,335.0 319.2,316.7 320.1,311.0 321.1,315.9 322.1,327.0 323.1,341.2 325.0,354.7 325.0,319.0 325.0,354.7 325.0,363.7 326.0,366.0 326.9,361.9 327.9,353.4 328.9,342.7 329.9,332.3 330.8,325.0 331.8,322.5 332.8,325.8 333.8,334.1 334.7,345.6 335.7,357.5 336.7,367.1 337.6,372.5 339.2,371.3 339.2,313.0 339.2,371.3 339.6,364.7 340.6,353.6 341.5,340.6 342.5,328.4 343.5,319.6 344.4,316.2 345.4,319.8 346.4,330.1 347.4,344.2 348.3,357.7 349.3,366.7 350.3,368.8 351.3,364.6 352.2,356.3 353.2,345.3 354.2,333.6 355.1,323.4 356.1,316.6 357.1,314.5 358.1,320.0 359.0,332.8 360.0,348.4 361.0,361.0 361.9,366.2 362.9,363.1 363.9,353.5 364.9,339.7 365.8,324.9 367.5,312.7 367.5,291.0 367.5,379.5 367.5,312.7 367.8,305.0 368.8,306.0 369.7,313.1 370.7,325.6 371.7,340.5 372.6,354.4 373.6,364.0 374.6,367.0 375.6,363.9 376.5,356.2 377.5,345.2 378.5,332.8 379.4,321.2 380.5,312.3 380.5,105.0 380.5,391.0 380.5,312.3 381.4,307.5 382.4,309.7 383.3,321.3 384.3,339.9 385.3,360.5 386.3,377.2 387.2,386.0 388.2,383.5 389.2,372.7 390.1,356.3 391.1,339.3 392.1,326.8 393.5,322.5 393.5,119.0 393.5,385.0 393.5,322.5 394.0,328.0 395.0,341.7 396.0,360.0 396.9,377.8 397.9,390.1 398.9,393.8 399.9,388.2 400.8,375.6 401.8,358.6 402.8,341.4 403.8,327.9 404.7,321.0 406.5,324.7 406.5,128.0 406.5,380.0 406.5,324.7 406.7,340.6 407.6,362.2 408.6,379.9 409.6,386.0 410.6,382.5 411.5,373.6 412.5,360.9 413.5,346.6 414.4,333.2 415.4,323.1 416.4,317.5 417.4,319.6 418.3,330.9 419.3,349.0 420.3,368.9 421.3,385.2 422.2,393.8 423.2,391.7 424.2,382.4 425.1,367.6 426.1,350.5 427.1,334.7 428.1,323.8 429.0,320.0 430.0,327.1 431.0,345.2 432.8,368.3 432.8,337.0 432.8,368.3 432.9,389.0 433.9,401.2 434.9,399.4 435.8,389.6 436.8,373.4 437.8,354.7 438.8,337.8 439.7,326.7 440.7,323.8 441.7,332.5 442.6,350.5 443.6,372.0 444.6,390.0 445.6,398.8 446.5,396.1 447.5,385.6 448.5,369.3 449.4,350.1 450.4,331.6 451.4,317.3 452.4,309.2 453.3,311.1 454.3,321.7 455.3,339.3 456.3,359.3 457.2,376.7 458.2,387.1 459.2,388.8 460.1,378.7 461.1,361.8 462.1,341.1 463.1,321.5 464.0,307.5 465.0,302.5 466.0,307.7 466.9,321.7 467.9,340.9 469.2,359.7 469.2,319.0 469.2,359.7 469.9,373.2 470.8,377.5 471.8,370.9 472.8,354.6 473.8,332.4 474.7,309.5 475.7,291.2 476.7,281.2 477.6,283.6 478.6,295.6 479.6,315.1 480.6,337.4 481.5,357.5 482.5,370.5 483.8,373.8 483.8,288.8 483.8,373.8 484.4,364.2 485.4,344.5 486.4,319.4 487.4,295.3 488.3,278.2 489.3,272.5 490.3,278.2 491.3,293.2 492.2,314.6 493.2,338.4 494.2,360.2 495.1,375.8 496.5,382.5 496.5,104.0 496.5,382.5 497.1,369.5 498.1,330.1 499.0,288.7 500.0,271.2 501.0,276.3 501.9,290.3 502.9,309.9 503.9,330.5 504.9,347.4 505.8,357.5 506.8,356.0 507.8,346.4 509.5,330.3 509.5,140.0 509.5,330.3 509.7,311.3 510.7,293.9 511.7,282.2 512.6,278.8 513.6,284.8 514.6,298.8 515.6,317.4 516.5,336.3 517.5,351.1 518.5,358.8 519.4,355.9 520.4,343.1 521.4,323.6 522.4,302.6 523.3,285.9 524.3,278.0 525.3,292.4 526.3,335.9 527.2,370.0 528.2,360.0 529.2,342.0 530.1,355.9 531.1,368.0 532.1,361.9 533.1,347.7 534.0,329.1 535.0,311.4 536.0,299.4 536.9,296.2 537.9,305.6 538.9,324.8 539.9,347.7 540.8,366.9 541.8,376.2 542.8,373.0 543.8,360.5 544.7,341.6 545.7,320.6 546.7,302.5 547.6,291.5 548.6,289.5 549.6,299.4 550.6,317.0 551.5,338.9 552.5,360.0 553.5,375.3 554.4,381.2 555.4,376.5 556.4,362.4 557.4,343.4 558.3,325.0 559.3,312.8 560.5,310.0 560.5,123.0 560.5,384.0 560.5,310.0 561.5,316.9 561.5,214.0 561.5,316.9 562.2,330.2 563.2,347.3 564.2,364.0 565.1,376.5 566.1,382.0 567.1,378.4 568.1,366.0 569.0,347.6 570.0,327.5 571.0,310.4 571.9,300.4 573.5,298.8 573.5,99.0 573.5,298.8 573.9,310.6 574.9,329.9 575.8,352.6 576.8,372.3 577.8,385.0 578.7,383.9 579.7,376.1 580.7,362.4 581.7,346.0 582.6,330.8 583.6,320.3 584.6,317.0 585.6,323.8 586.5,340.0 587.5,360.8 588.5,380.0 589.4,391.8 590.4,393.8 591.4,385.6 592.4,371.7 593.3,353.8 594.3,335.4 595.3,319.8 596.2,309.9 597.2,307.5 598.2,316.6 599.2,334.8 600.1,357.1 601.1,376.6 602.1,388.8 603.1,387.5 604.0,379.7 605.0,366.6 606.0,351.0 606.9,336.8 607.9,327.3 608.9,324.5 609.9,331.0 610.8,345.5 611.8,363.7 612.8,380.1 613.7,389.9 614.7,391.2 615.7,381.5 616.7,365.8 617.6,346.6 618.6,328.0 619.6,314.0 620.6,307.5 621.5,310.7 622.5,322.8 623.5,340.7 624.4,359.4 625.4,373.8 626.4,380.0 627.4,377.0 628.3,366.9 629.3,352.0 630.3,335.4 631.2,320.8 632.2,311.2 633.2,308.8 634.2,315.6 635.1,330.0 636.1,348.3 637.1,365.2 638.1,376.3 639.0,378.8 640.0,372.2 641.0,359.6 641.9,343.4 642.9,327.6 643.9,315.7 644.9,310.5 645.8,313.2 646.8,322.3 647.8,335.9 648.7,350.8 649.7,363.4 650.7,370.8 651.7,372.0 652.6,365.0 653.6,353.2 654.6,338.9 655.6,325.2 656.5,315.5 657.5,312.0 658.5,315.8 659.4,326.2 660.4,340.8 661.4,356.2 662.4,368.7 663.5,376.2 663.5,62.0 663.5,376.2 664.3,374.8 665.3,366.0 666.2,351.0 667.2,333.4 668.2,317.3 669.2,306.4 670.1,303.2 671.1,309.6 672.1,323.9 673.1,342.4 674.0,359.9 675.0,371.6 676.0,374.5 676.9,367.7 677.9,353.7 678.9,335.9 679.9,318.7 680.8,306.6 681.8,302.5 682.8,306.4 683.7,316.3 684.7,330.0 685.7,344.2 686.7,355.6 687.6,362.0 688.6,360.2 689.6,350.3 690.6,334.5 691.5,317.1 692.5,303.0 693.5,295.5 694.4,298.3 695.4,310.7 696.4,330.4 697.4,352.6 698.3,372.3 699.3,384.7 700.3,387.5 701.2,381.2 702.2,368.9 703.2,352.6 704.2,335.6 705.1,321.5 706.9,312.9 706.9,311.0 706.9,371.0 706.9,312.9 707.1,311.2 708.1,322.7 709.0,342.5 710.0,365.0 711.0,382.8 711.9,390.0 712.9,385.9 713.9,373.5 714.9,355.2 715.8,334.7 716.8,316.2 717.8,303.3 718.7,298.8 719.7,305.1 720.7,322.4 721.7,345.3 722.6,367.0 723.6,381.0 724.6,383.8 725.6,375.1 726.5,359.2 728.0,339.2 728.0,300.0 728.0,396.0 728.0,339.2 728.5,319.9 729.4,305.8 730.4,300.0 731.4,305.3 732.4,321.8 733.3,345.0 734.3,368.4 735.3,385.7 736.2,392.0 737.2,386.9 738.2,372.8 739.2,353.0 740.1,332.2 741.8,315.2 741.8,290.0 741.8,380.0 741.8,315.2 742.1,305.0 743.1,307.1 744.0,320.1 745.0,342.1 746.0,368.1 746.9,391.8 747.9,407.9 748.9,412.5 749.9,405.1 750.8,388.1 751.8,365.5 752.8,342.4 753.7,324.3 754.7,315.0 755.7,318.9 756.7,336.3 757.6,362.4 758.6,389.5 759.6,409.5 760.6,416.2 761.5,409.7 762.5,392.8 763.5,369.2 764.4,344.0 765.4,322.7 766.4,309.9 767.4,307.5 768.3,321.1 769.3,344.5 770.3,371.5 771.2,394.2 772.2,406.2 773.2,403.0 774.2,388.5 775.1,365.4 776.1,338.6 777.1,314.0 778.1,296.9 779.0,291.0 780.0,300.0 781.0,322.1 781.9,348.0 782.9,366.7 783.6,371.0" fill="none" stroke="#0000ff" stroke-width="1" shape-rendering="crispEdges"/>
<g font-size="12">
<text x="62.5" y="65" text-anchor="end">5.0</text>
<text x="62.5" y="94" text-anchor="end">4.5</text>
<text x="62.5" y="123" text-anchor="end">4.0</text>
<text x="62.5" y="151" text-anchor="end">3.5</text>
<text x="62.5" y="180" text-anchor="end">3.0</text>
<text x="62.5" y="208" text-anchor="end">2.5</text>
<text x="62.5" y="237" text-anchor="end">2.0</text>
<text x="62.5" y="265" text-anchor="end"><tspan class="o">1</tspan>.5</text>
<text x="62.5" y="294" text-anchor="end"><tspan class="o">1</tspan>.0</text>
<text x="62.5" y="323" text-anchor="end">0.5</text>
<text x="62.5" y="351" text-anchor="end">0.0</text>
<text x="62.5" y="380" text-anchor="end">-0.5</text>
<text x="62.5" y="408" text-anchor="end">-<tspan class="o">1</tspan>.0</text>
<text x="62.5" y="437" text-anchor="end">-<tspan class="o">1</tspan>.5</text>
<text x="62.5" y="465" text-anchor="end">-2.0</text>
<text x="62.5" y="494" text-anchor="end">-2.5</text>
<text x="62.5" y="522" text-anchor="end">-3.0</text>
<text x="83" y="553.7" text-anchor="middle">0</text>
<text x="200" y="553.7" text-anchor="middle">5</text>
<text x="315.3" y="553.7" text-anchor="middle"><tspan class="o">1</tspan>0</text>
<text x="432.3" y="553.7" text-anchor="middle"><tspan class="o">1</tspan>5</text>
<text x="549.3" y="553.7" text-anchor="middle">20</text>
<text x="666.3" y="553.7" text-anchor="middle">25</text>
<text x="782.3" y="553.7" text-anchor="middle">30</text>
</g>
<text x="400.7" y="17" text-anchor="middle" font-size="19.2" font-weight="bold">Relative Tide (m)</text>
<text x="400.5" y="34" text-anchor="middle" font-size="13">station=OYST</text>
<text x="433.2" y="585" text-anchor="middle" font-size="12.7">MAR 20<tspan class="o">1</tspan>4</text>
<text transform="translate(21,289.2) rotate(-90)" text-anchor="middle" font-size="12.75">Relative Tide Level in meters</text>
</svg>
</body></html>
